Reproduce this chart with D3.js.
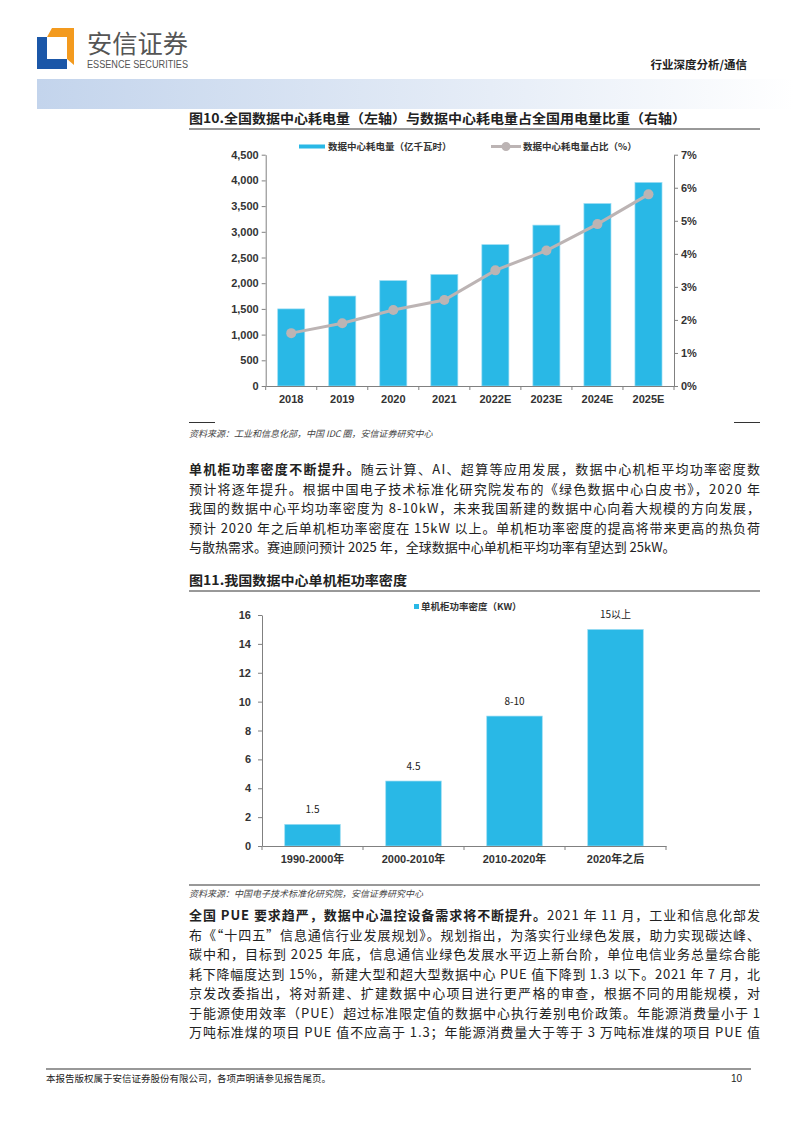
<!DOCTYPE html>
<html>
<head>
<meta charset="UTF-8">
<script src="https://d3js.org/d3.v7.min.js"></script>
<style>
  body { margin: 0; background: #fff; }
  svg { display: block; }
  text { font-family: "Liberation Sans", Arial, "Noto Sans CJK SC", sans-serif; }
  .cjk { font-family: "Noto Sans CJK SC", sans-serif; }
  .axis path, .axis line { stroke: #808080; }
</style>
</head>
<body>
<svg id="page" width="794" height="1123"></svg>
<script>
// chart 1 data
const years = ['2018', '2019', '2020', '2021', '2022E', '2023E', '2024E', '2025E'];
const power = [1500, 1750, 2050, 2170, 2750, 3130, 3550, 3960];   // 亿千瓦时
const share = [1.6, 1.9, 2.3, 2.6, 3.5, 4.1, 4.9, 5.8];            // %
const leftTicks = [0, 500, 1000, 1500, 2000, 2500, 3000, 3500, 4000, 4500];
const rightTicks = [0, 1, 2, 3, 4, 5, 6, 7];

// chart 2 data
const periods = ['1990-2000年', '2000-2010年', '2010-2020年', '2020年之后'];
const density = [1.5, 4.5, 9, 15];
const densityLabels = ['1.5', '4.5', '8-10', '15以上'];
const densityTicks = [0, 2, 4, 6, 8, 10, 12, 14, 16];

const para1 = [
    [['单机柜功率密度不断提升。', true], ['随云计算、AI、超算等应用发展，数据中心机柜平均功率密度数', false]],
    [['预计将逐年提升。根据中国电子技术标准化研究院发布的《绿色数据中心白皮书》，2020 年', false]],
    [['我国的数据中心平均功率密度为 8-10kW，未来我国新建的数据中心向着大规模的方向发展，', false]],
    [['预计 2020 年之后单机柜功率密度在 15kW 以上。单机柜功率密度的提高将带来更高的热负荷', false]],
    [['与散热需求。赛迪顾问预计 2025 年，全球数据中心单机柜平均功率有望达到 25kW。', false]]
];
const para2 = [
    [['全国 PUE 要求趋严，数据中心温控设备需求将不断提升。', true], ['2021 年 11 月，工业和信息化部发', false]],
    [['布《“十四五”信息通信行业发展规划》。规划指出，为落实行业绿色发展，助力实现碳达峰、', false]],
    [['碳中和，目标到 2025 年底，信息通信业绿色发展水平迈上新台阶，单位电信业务总量综合能', false]],
    [['耗下降幅度达到 15%，新建大型和超大型数据中心 PUE 值下降到 1.3 以下。2021 年 7 月，北', false]],
    [['京发改委指出，将对新建、扩建数据中心项目进行更严格的审查，根据不同的用能规模，对', false]],
    [['于能源使用效率（PUE）超过标准限定值的数据中心执行差别电价政策。年能源消费量小于 1', false]],
    [['万吨标准煤的项目 PUE 值不应高于 1.3；年能源消费量大于等于 3 万吨标准煤的项目 PUE 值', false]]
];

const svg = d3.select('#page');

// ---------- header ----------
const defs = svg.append('defs');
const grad = defs.append('linearGradient').attr('id', 'band');
grad.append('stop').attr('offset', '0%').attr('stop-color', '#c3d4ec');
grad.append('stop').attr('offset', '60%').attr('stop-color', '#e6edf7');
grad.append('stop').attr('offset', '100%').attr('stop-color', '#ffffff');
svg.append('rect').attr('x', 37).attr('y', 79).attr('width', 757).attr('height', 30).attr('fill', 'url(#band)');

svg.append('path').attr('d', 'M37,37 L47,37 L47,59 L67,59 L67,69 L37,69 Z').attr('fill', '#1b57a8');
svg.append('path').attr('d', 'M52,28 L74,28 L74,65 L67,59 L67,37 L47,37 Z').attr('fill', '#f39a1e');
svg.append('text').attr('class', 'cjk').attr('x', 87).attr('y', 53)
    .attr('textLength', 101).attr('lengthAdjust', 'spacingAndGlyphs')
    .style('font-size', '25px').style('fill', '#555').text('安信证券');
svg.append('text').attr('x', 87).attr('y', 67.5)
    .attr('textLength', 101).attr('lengthAdjust', 'spacingAndGlyphs')
    .style('font-size', '10px').style('fill', '#555').text('ESSENCE SECURITIES');
svg.append('text').attr('class', 'cjk').attr('x', 747).attr('y', 69)
    .style('font-size', '11.5px').style('font-weight', 'bold').style('fill', '#222')
    .style('text-anchor', 'end').text('行业深度分析/通信');

// ---------- helpers ----------
function figTitle(txt, y, len) {
    svg.append('text').attr('class', 'cjk').attr('x', 189).attr('y', y)
        .attr('textLength', len).attr('lengthAdjust', 'spacingAndGlyphs')
        .style('font-size', '13px').style('font-weight', 'bold').style('fill', '#222').text(txt);
}
function rule(x1, x2, y, w) {
    svg.append('line').attr('x1', x1).attr('x2', x2).attr('y1', y).attr('y2', y)
        .style('stroke', '#333').style('stroke-width', w || 1);
}
function source(txt, y) {
    svg.append('text').attr('class', 'cjk').attr('x', 189).attr('y', y)
        .style('font-size', '9px').style('font-style', 'italic').style('fill', '#444').text(txt);
}
function paragraph(lines, y0, lastJustified) {
    lines.forEach((parts, i) => {
        const t = svg.append('text').attr('class', 'cjk').attr('x', 189).attr('y', y0 + i * 19.5)
            .style('font-size', '13px').style('fill', '#222');
        if (i < lines.length - 1 || lastJustified) {
            t.attr('textLength', 571).attr('lengthAdjust', 'spacing');
        }
        parts.forEach(p => {
            t.append('tspan').style('font-weight', p[1] ? 'bold' : 'normal').text(p[0]);
        });
    });
}

// ---------- figure 10 ----------
figTitle('图10.全国数据中心耗电量（左轴）与数据中心耗电量占全国用电量比重（右轴）', 123, 497);
rule(189, 760, 129, 1);

const x1 = d3.scaleBand().domain(years).range([265.7, 674]).paddingInner(0.47).paddingOuter(0.235);
const yL = d3.scaleLinear().domain([0, 4500]).range([386, 154.7]);
const yR = d3.scaleLinear().domain([0, 7]).range([386, 154.7]);

const g1 = svg.append('g');
g1.selectAll('rect.bar').data(years).join('rect')
    .attr('class', 'bar')
    .attr('x', d => x1(d)).attr('width', x1.bandwidth())
    .attr('y', (d, i) => yL(power[i])).attr('height', (d, i) => yL(0) - yL(power[i]))
    .style('fill', '#29b8e6').style('stroke', '#9bdcf3').style('stroke-width', 0.7);

const axL = g1.append('g').attr('class', 'axis').attr('transform', 'translate(265.7,0)')
    .call(d3.axisLeft(yL).tickValues(leftTicks).tickSize(4).tickSizeOuter(0).tickFormat(d3.format(',')));
const axR = g1.append('g').attr('class', 'axis').attr('transform', 'translate(674,0)')
    .call(d3.axisRight(yR).tickValues(rightTicks).tickSize(4).tickSizeOuter(0).tickFormat(d => d + '%'));
const axB = g1.append('g').attr('class', 'axis').attr('transform', 'translate(0,386)')
    .call(d3.axisBottom(x1).tickSize(0).tickSizeOuter(0).tickPadding(9));
axB.selectAll('.tick').append('line')
    .attr('x1', -x1.step() / 2).attr('x2', -x1.step() / 2).attr('y2', 4).style('stroke', '#808080');
axB.append('line').attr('x1', 674).attr('x2', 674).attr('y2', 4).style('stroke', '#808080');
[axL, axR, axB].forEach(a => a.selectAll('text')
    .style('font-size', '11px').style('font-weight', 'bold').style('fill', '#333'));

const line = d3.line().x(d => x1(d[0]) + x1.bandwidth() / 2).y(d => yR(d[1]));
const pts = years.map((d, i) => [d, share[i]]);
g1.append('path').datum(pts).attr('d', line)
    .style('fill', 'none').style('stroke', '#bcb4b4').style('stroke-width', 3);
g1.selectAll('circle.pt').data(pts).join('circle').attr('class', 'pt')
    .attr('cx', d => x1(d[0]) + x1.bandwidth() / 2).attr('cy', d => yR(d[1])).attr('r', 5)
    .style('fill', '#bcb4b4');

// legend
svg.append('rect').attr('x', 299).attr('y', 144.5).attr('width', 26).attr('height', 4).style('fill', '#29b8e6');
svg.append('text').attr('class', 'cjk').attr('x', 328).attr('y', 150)
    .style('font-size', '9.5px').style('font-weight', 'bold').style('fill', '#333').text('数据中心耗电量（亿千瓦时）');
svg.append('line').attr('x1', 491).attr('x2', 521).attr('y1', 146.5).attr('y2', 146.5)
    .style('stroke', '#bcb4b4').style('stroke-width', 3);
svg.append('circle').attr('cx', 506).attr('cy', 146.5).attr('r', 4.5).style('fill', '#bcb4b4');
svg.append('text').attr('class', 'cjk').attr('x', 523).attr('y', 150)
    .style('font-size', '9.5px').style('font-weight', 'bold').style('fill', '#333').text('数据中心耗电量占比（%）');

rule(189, 215, 422.5, 1);
rule(734, 760, 422.5, 1);
source('资料来源：工业和信息化部，中国 IDC 圈，安信证券研究中心', 437);

paragraph(para1, 474, false);

// ---------- figure 11 ----------
figTitle('图11.我国数据中心单机柜功率密度', 585, 218);
rule(189, 760, 591, 1);

const x2 = d3.scaleBand().domain(periods).range([262, 666]).paddingInner(0.45).paddingOuter(0.225);
const y2 = d3.scaleLinear().domain([0, 16]).range([846, 615]);

const g2 = svg.append('g');
g2.selectAll('rect.bar').data(periods).join('rect')
    .attr('class', 'bar')
    .attr('x', d => x2(d)).attr('width', x2.bandwidth())
    .attr('y', (d, i) => y2(density[i])).attr('height', (d, i) => y2(0) - y2(density[i]))
    .style('fill', '#29b8e6').style('stroke', '#9bdcf3').style('stroke-width', 0.7);
g2.selectAll('text.val').data(periods).join('text').attr('class', 'val cjk')
    .attr('x', d => x2(d) + x2.bandwidth() / 2).attr('y', (d, i) => y2(density[i]) - 11)
    .style('text-anchor', 'middle').style('font-size', '10px').style('fill', '#222')
    .text((d, i) => densityLabels[i]);

const ax2L = g2.append('g').attr('class', 'axis').attr('transform', 'translate(262,0)')
    .call(d3.axisLeft(y2).tickValues(densityTicks).tickSize(4).tickSizeOuter(0).tickPadding(7));
const ax2B = g2.append('g').attr('class', 'axis').attr('transform', 'translate(0,846)')
    .call(d3.axisBottom(x2).tickSize(0).tickSizeOuter(0).tickPadding(9));
ax2B.selectAll('.tick').append('line')
    .attr('x1', -x2.step() / 2).attr('x2', -x2.step() / 2).attr('y2', 4).style('stroke', '#808080');
ax2B.append('line').attr('x1', 666).attr('x2', 666).attr('y2', 4).style('stroke', '#808080');
[ax2L, ax2B].forEach(a => a.selectAll('text')
    .style('font-size', '11px').style('font-weight', 'bold').style('fill', '#333'));

svg.append('rect').attr('x', 414).attr('y', 604).attr('width', 5).attr('height', 5).style('fill', '#29b8e6');
svg.append('text').attr('class', 'cjk').attr('x', 421).attr('y', 610)
    .style('font-size', '9.5px').style('font-weight', 'bold').style('fill', '#333').text('单机柜功率密度（KW）');

rule(189, 760, 885, 1);
source('资料来源：中国电子技术标准化研究院，安信证券研究中心', 897);

paragraph(para2, 920, true);

// ---------- footer ----------
rule(46, 751, 1069, 1.2);
svg.append('text').attr('class', 'cjk').attr('x', 46).attr('y', 1082)
    .style('font-size', '9.5px').style('fill', '#222').text('本报告版权属于安信证券股份有限公司，各项声明请参见报告尾页。');
svg.append('text').attr('x', 742).attr('y', 1082).style('text-anchor', 'end')
    .style('font-size', '10px').style('fill', '#222').text('10');
</script>
</body>
</html>
